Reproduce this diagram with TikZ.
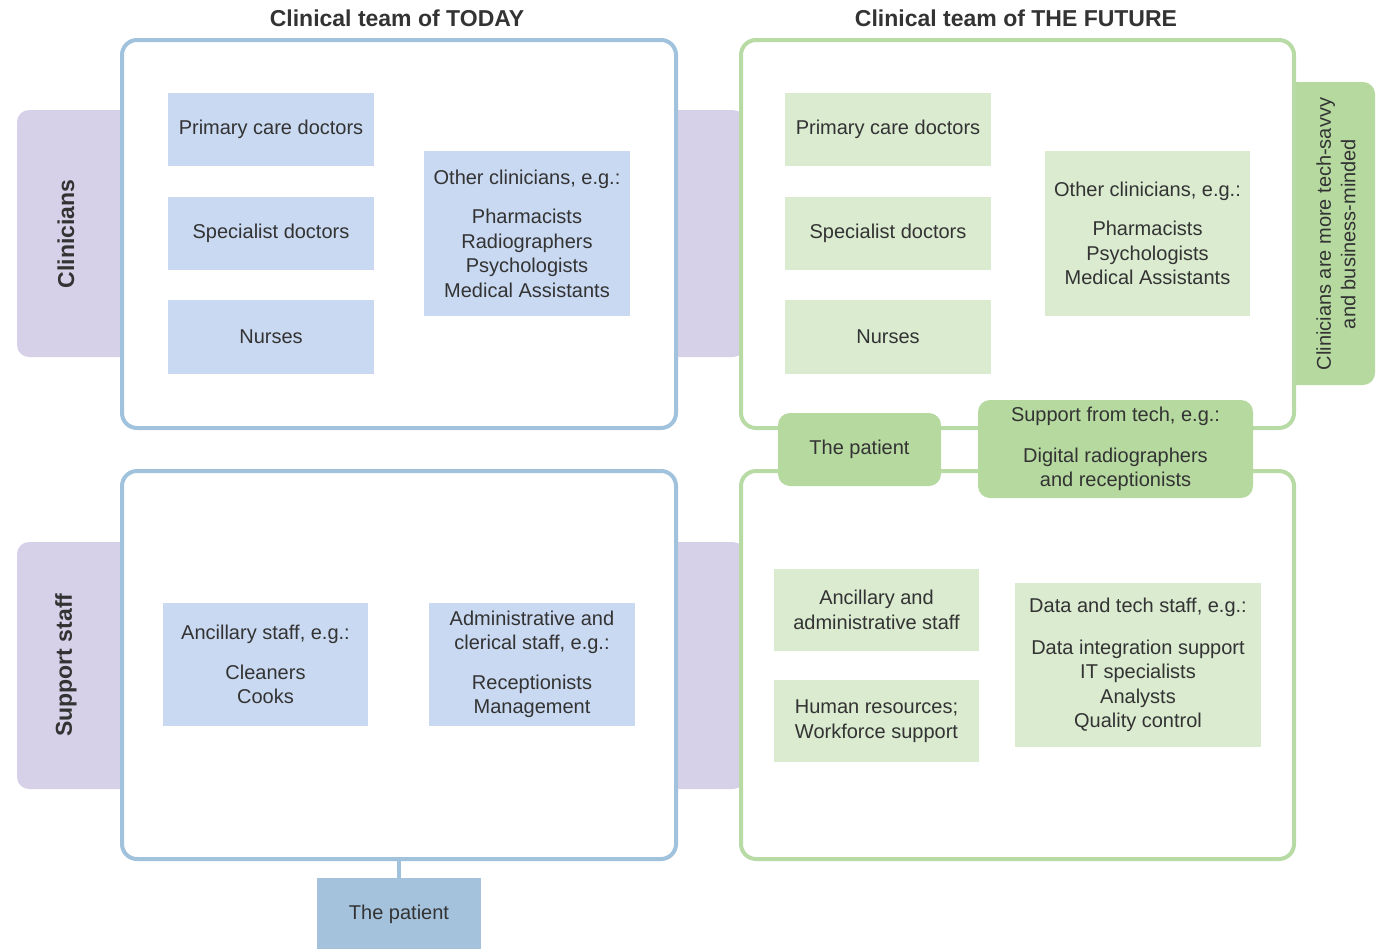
\documentclass[tikz,border=0pt]{standalone}
\usepackage{fontspec}
\setmainfont{Liberation Sans}
\definecolor{txt}{HTML}{333333}
\definecolor{bline}{HTML}{A0C2DC}
\definecolor{bfill}{HTML}{C9D9F1}
\definecolor{pfill}{HTML}{A4C2DC}
\definecolor{purp}{HTML}{D6D1E8}
\definecolor{gline}{HTML}{B8DBA5}
\definecolor{gfill}{HTML}{DAEBD0}
\definecolor{gdark}{HTML}{B6D9A0}
\tikzset{
  every node/.style={font=\fontsize{20}{24.5}\selectfont, text=txt, inner sep=0pt, align=center},
  title/.style={font=\fontsize{23}{27}\selectfont\bfseries},
  band/.style={fill=purp, rounded corners=12pt},
  bandlabel/.style={font=\fontsize{23}{27}\selectfont\bfseries, rotate=90},
  todaybox/.style={draw=bline, line width=4pt, fill=white, rounded corners=15pt},
  futurebox/.style={draw=gline, line width=4pt, fill=white, rounded corners=15pt},
  tbox/.style={fill=bfill},
  fbox/.style={fill=gfill},
  fkey/.style={fill=gdark, rounded corners=12pt},
  link/.style={draw=bline, line width=4pt},
  sz/.style n args={2}{minimum width=#1, minimum height=#2},
}
\begin{document}
\begin{tikzpicture}[x=1pt, y=-1pt]
\useasboundingbox (0,0) rectangle (1386,948);

% row bands behind the team boxes
\node[band, sz={728pt}{247pt}] (bandclin) at (381,233.5) {};
\node[band, sz={728pt}{247pt}] (bandsup) at (381,665.5) {};
\node[fkey, sz={95pt}{303pt}] (savvy) at (1327.5,233.5) {};
\node[rotate=90] (savvytxt) at (1336,234) {Clinicians are more tech-savvy\\and business-minded};
\node[bandlabel] (clinlbl) at (66,234) {Clinicians};
\node[bandlabel] (suplbl) at (66,665) {Support staff};

% headings
\node[title] (ttoday) at (397,18) {Clinical team of TODAY};
\node[title] (tfuture) at (1016,18) {Clinical team of THE FUTURE};

% team frames
\node[todaybox, sz={554pt}{388pt}] (ltop) at (399,234) {};
\node[todaybox, sz={554pt}{388pt}] (lbot) at (399,665) {};
\node[futurebox, sz={553pt}{388pt}] (rtop) at (1017.5,234) {};
\node[futurebox, sz={553pt}{388pt}] (rbot) at (1017.5,665) {};

% today: clinicians
\node[tbox, sz={206pt}{73pt}] (pcd) at (271,129.5) {Primary care doctors};
\node[tbox, sz={206pt}{73pt}] (spd) at (271,233.5) {Specialist doctors};
\node[tbox, sz={206pt}{74pt}] (nur) at (271,337) {Nurses};
\node[tbox, sz={206pt}{165pt}] (oth) at (527,233.5) {Other clinicians, e.g.:\\[15pt]Pharmacists\\Radiographers\\Psychologists\\Medical Assistants};

% today: support staff
\node[tbox, sz={205pt}{123pt}] (anc) at (265.5,664.5) {Ancillary staff, e.g.:\\[15pt]Cleaners\\Cooks};
\node[tbox, sz={206pt}{123pt}] (adm) at (532,664.5) {Administrative and\\clerical staff, e.g.:\\[15pt]Receptionists\\Management};

% future: clinicians
\node[fbox, sz={206pt}{73pt}] (fpcd) at (888,129.5) {Primary care doctors};
\node[fbox, sz={206pt}{73pt}] (fspd) at (888,233.5) {Specialist doctors};
\node[fbox, sz={206pt}{74pt}] (fnur) at (888,337) {Nurses};
\node[fbox, sz={205pt}{165pt}] (foth) at (1147.5,233.5) {Other clinicians, e.g.:\\[15pt]Pharmacists\\Psychologists\\Medical Assistants};

% future: support staff
\node[fbox, sz={205pt}{82pt}] (fanc) at (876.5,610) {Ancillary and\\administrative staff};
\node[fbox, sz={205pt}{82pt}] (fhr) at (876.5,721) {Human resources;\\Workforce support};
\node[fbox, sz={246pt}{164pt}] (fdata) at (1138,665) {Data and tech staff, e.g.:\\[17pt]Data integration support\\IT specialists\\Analysts\\Quality control};

% future: patient and tech support between the frames
\node[fkey, sz={163pt}{73pt}] (fpat) at (859.5,449.5) {The patient};
\node[fkey, sz={275pt}{98pt}] (ftech) at (1115.5,449) {Support from tech, e.g.:\\[16pt]Digital radiographers\\and receptionists};

% today: patient below the frames
\node[fill=pfill, sz={164pt}{72pt}] (pat) at (399,914) {The patient};
\draw[link] (lbot.south) -- (pat.north);
\end{tikzpicture}
\end{document}
